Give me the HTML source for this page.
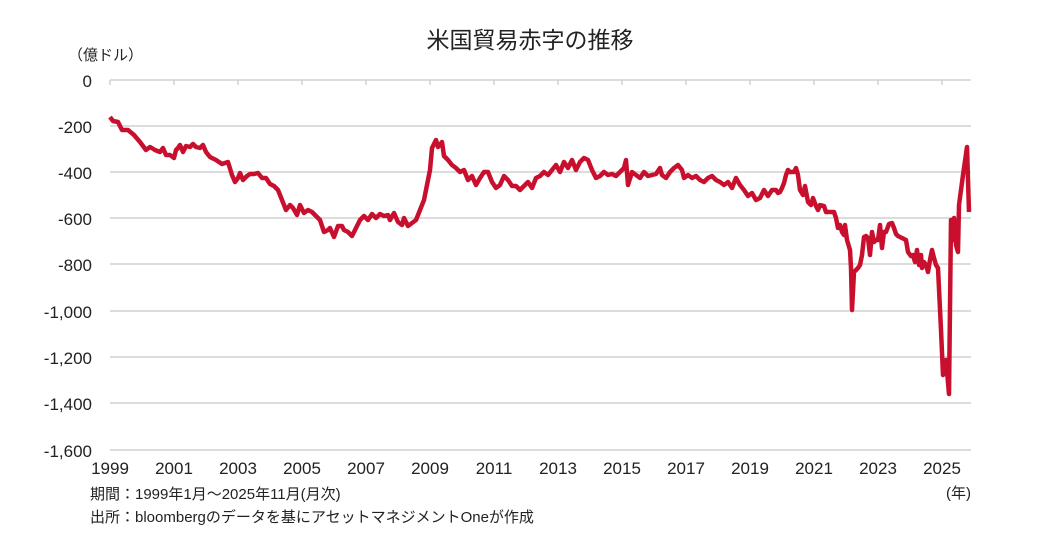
<!DOCTYPE html>
<html><head><meta charset="utf-8"><style>
body{margin:0;background:#fff;width:1046px;height:539px;overflow:hidden;font-family:"Liberation Sans","Noto Sans CJK JP",sans-serif;}
</style></head><body>
<svg width="1046" height="539" xmlns="http://www.w3.org/2000/svg" style="font-family:'Liberation Sans','Noto Sans CJK JP',sans-serif">
<text x="530" y="48" font-size="23" text-anchor="middle" fill="#222">米国貿易赤字の推移</text>
<text x="68" y="60" font-size="15" fill="#222">（億ドル）</text>
<g stroke="#d0d0d0" stroke-width="1.5">
<line x1="110" y1="80" x2="971" y2="80"/>
<line x1="110" y1="126" x2="971" y2="126"/>
<line x1="110" y1="172" x2="971" y2="172"/>
<line x1="110" y1="218" x2="971" y2="218"/>
<line x1="110" y1="264" x2="971" y2="264"/>
<line x1="110" y1="311" x2="971" y2="311"/>
<line x1="110" y1="357" x2="971" y2="357"/>
<line x1="110" y1="403" x2="971" y2="403"/>
<line x1="110" y1="450" x2="971" y2="450"/>
<line x1="110" y1="80" x2="110" y2="85"/><line x1="174" y1="80" x2="174" y2="85"/><line x1="238" y1="80" x2="238" y2="85"/><line x1="302" y1="80" x2="302" y2="85"/><line x1="366" y1="80" x2="366" y2="85"/><line x1="430" y1="80" x2="430" y2="85"/><line x1="494" y1="80" x2="494" y2="85"/><line x1="558" y1="80" x2="558" y2="85"/><line x1="622" y1="80" x2="622" y2="85"/><line x1="686" y1="80" x2="686" y2="85"/><line x1="750" y1="80" x2="750" y2="85"/><line x1="814" y1="80" x2="814" y2="85"/><line x1="878" y1="80" x2="878" y2="85"/><line x1="942" y1="80" x2="942" y2="85"/>
</g>
<g font-size="17" fill="#222" text-anchor="end">
<text x="92" y="87">0</text><text x="92" y="133">-200</text><text x="92" y="179">-400</text><text x="92" y="225">-600</text><text x="92" y="271">-800</text><text x="92" y="318">-1,000</text><text x="92" y="364">-1,200</text><text x="92" y="410">-1,400</text><text x="92" y="457">-1,600</text>
</g>
<g font-size="17" fill="#222" text-anchor="middle">
<text x="110" y="474">1999</text><text x="174" y="474">2001</text><text x="238" y="474">2003</text><text x="302" y="474">2005</text><text x="366" y="474">2007</text><text x="430" y="474">2009</text><text x="494" y="474">2011</text><text x="558" y="474">2013</text><text x="622" y="474">2015</text><text x="686" y="474">2017</text><text x="750" y="474">2019</text><text x="814" y="474">2021</text><text x="878" y="474">2023</text><text x="942" y="474">2025</text>
</g>
<text x="946" y="498" font-size="15" fill="#222">(年)</text>
<text x="90" y="499" font-size="15" fill="#222">期間：1999年1月～2025年11月(月次)</text>
<text x="90" y="522" font-size="15" fill="#222">出所：bloombergのデータを基にアセットマネジメントOneが作成</text>
<polyline fill="none" stroke="#c8102e" stroke-width="4.5" stroke-linejoin="round" points="110,117 113,121 118,122 122,130 128,130 134,135 140,142 146,150 150,147 155,150 160,152 163,148 166,155 170,155 174,158 176,150 178,148 180,145 183,152 186,146 190,147 193,144 196,147 200,148 203,145 206,152 210,157 216,160 222,164 228,162 232,175 235,182 238,178 240,173 243,180 247,176 250,174 254,174 258,173 262,178 266,178 270,184 274,186 278,190 282,200 286,210 290,205 293,208 297,215 300,205 304,213 308,210 312,212 316,216 320,220 324,232 328,230 330,228 334,237 338,226 342,226 344,230 348,232 352,236 356,228 360,220 364,216 368,220 372,214 376,218 380,214 384,216 388,215 390,220 394,213 398,222 402,225 404,218 408,226 412,223 416,220 420,210 424,200 427,185 430,170 432,148 436,140 438,147 442,142 444,156 448,160 452,165 456,168 460,172 464,170 468,180 472,176 476,185 480,178 484,172 488,172 492,182 496,188 500,185 504,176 508,180 512,186 516,186 520,190 524,186 528,182 532,188 536,178 540,176 544,172 548,175 552,170 556,165 560,172 564,162 568,168 572,160 576,170 580,162 584,158 588,160 592,170 596,178 600,176 604,172 608,175 612,174 616,176 620,172 624,168 626,160 628,185 632,172 636,175 640,178 644,172 648,176 652,175 656,174 660,168 662,175 666,178 670,172 674,168 678,165 682,170 684,178 688,175 692,178 696,176 700,180 704,182 708,178 712,176 716,180 720,182 724,185 728,182 732,188 736,178 740,185 744,190 748,196 752,193 756,200 760,198 764,190 768,196 772,190 776,190 778,193 780,192 782,188 784,183 786,175 788,170 790,172 794,172 796,168 798,175 800,190 803,195 805,186 808,202 811,205 813,198 816,206 818,210 820,205 824,206 826,212 830,212 834,212 836,218 838,228 840,225 842,232 844,235 845,225 847,240 850,250 851,268 852,310 854,272 858,268 860,265 862,255 864,237 866,236 868,238 870,255 872,232 874,242 876,240 878,240 880,225 882,248 884,232 886,232 889,224 892,223 894,228 896,234 898,236 902,238 906,240 908,252 911,256 913,255 915,262 917,250 919,265 921,255 922,268 924,262 926,265 928,272 930,260 932,250 934,258 936,265 938,268 941,330 943,375 945,372 946,360 949,394 951,220 953,240 954,218 956,245 958,252 959,205 961,190 963,175 967,147 969,212"/>
</svg>
</body></html>
